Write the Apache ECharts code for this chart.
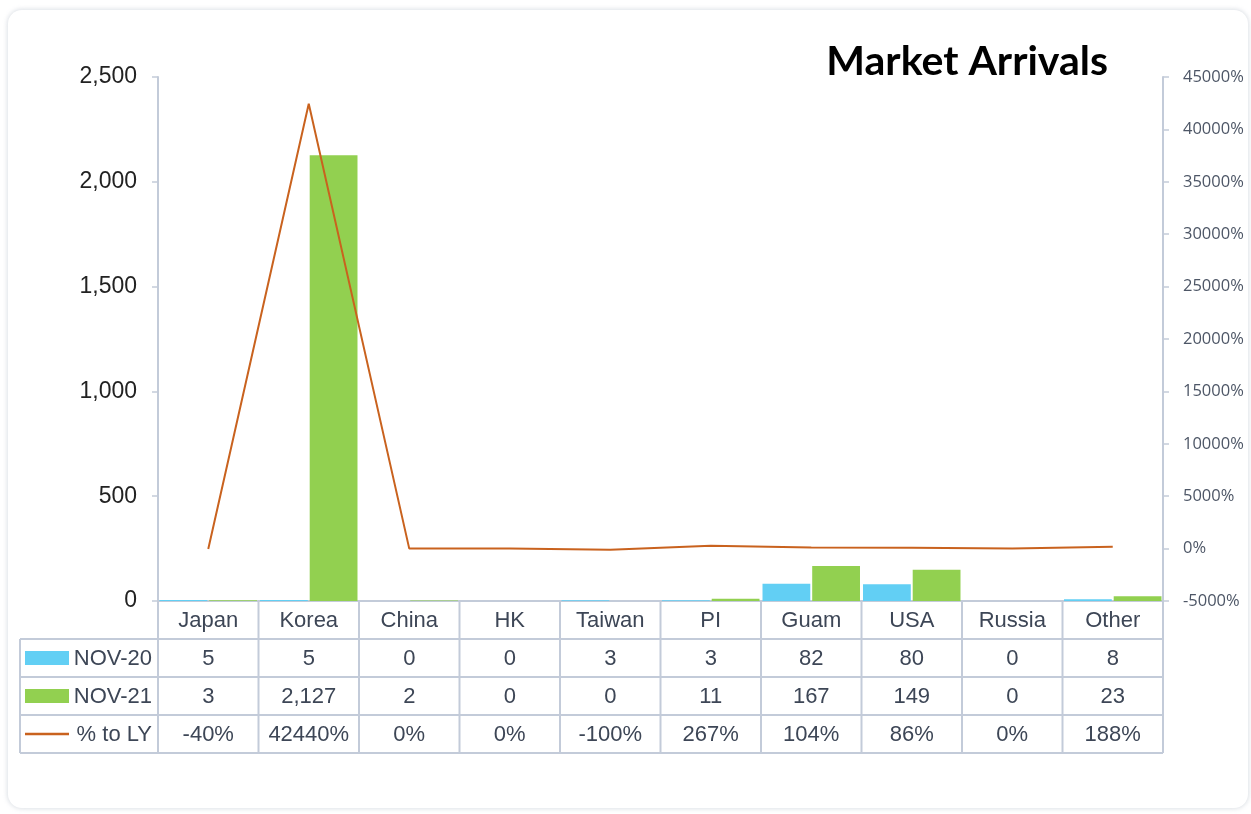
<!DOCTYPE html>
<html><head><meta charset="utf-8">
<script src="https://cdn.jsdelivr.net/npm/echarts@6/dist/echarts.min.js"></script>
<style>
html,body{margin:0;padding:0;background:#fff;}
#card{position:absolute;left:8px;top:10px;width:1240px;height:798px;border-radius:14px;box-shadow:0 0 4px 1px rgba(180,188,200,0.45);background:#fff;}
#chart{position:absolute;left:0;top:0;width:1251px;height:814px;}
</style></head>
<body>
<div id="card"></div>
<div id="chart"></div>
<script>
const categories = ['Japan','Korea','China','HK','Taiwan','PI','Guam','USA','Russia','Other'];
const nov20 = [5,5,0,0,3,3,82,80,0,8];
const nov21 = [3,2127,2,0,0,11,167,149,0,23];
const pctToLY = [-40,42440,0,0,-100,267,104,86,0,188];
const seriesNames = ['NOV-20','NOV-21','% to LY'];
const colors = ['#62CFF4','#92D050','#C9621E'];

const sansFont = '"Liberation Sans",Arial,sans-serif';
const borderColor = '#C3CBD9';
const textColor = '#3D4656';

const chart = echarts.init(document.getElementById('chart'), null, {renderer:'canvas'});
const option = {
  animation:false,
  backgroundColor:'transparent',
  title:{text:'Market Arrivals', right:143, top:41, padding:0,
    textStyle:{fontFamily:'Lato, "DejaVu Sans", sans-serif', fontWeight:'bold', fontSize:41, color:'#000'}},
  grid:{left:158, right:88, top:77, bottom:213},
  xAxis:{type:'category', data:categories,
    axisLine:{show:true, lineStyle:{color:borderColor, width:2}},
    axisTick:{show:false},
    axisLabel:{show:false}
  },
  yAxis:[
    {type:'value', min:0, max:2500, interval:500, position:'left',
     axisLine:{show:true, lineStyle:{color:borderColor, width:2}},
     axisTick:{show:true, length:6, lineStyle:{color:borderColor, width:1.5}},
     splitLine:{show:false},
     axisLabel:{fontFamily:sansFont, fontSize:23, color:'#222', margin:21,
       formatter:v=>v.toLocaleString('en-US')}},
    {type:'value', min:-5000, max:45000, interval:5000, position:'right',
     axisLine:{show:true, lineStyle:{color:borderColor, width:2}},
     axisTick:{show:true, length:6, lineStyle:{color:borderColor, width:1.5}},
     splitLine:{show:false},
     axisLabel:{fontFamily:'"Open Sans","Noto Sans",sans-serif', fontSize:16.5, color:'#4D5666', margin:20,
       formatter:v=>String(v)+'%'}}
  ],
  series:[
    {name:seriesNames[0], type:'bar', data:nov20, itemStyle:{color:colors[0]}, barGap:'4%', barCategoryGap:'3%'},
    {name:seriesNames[1], type:'bar', data:nov21, itemStyle:{color:colors[1]}, barGap:'4%', barCategoryGap:'3%'},
    {name:seriesNames[2], type:'line', yAxisIndex:1, data:pctToLY, symbol:'none',
     lineStyle:{color:colors[2], width:2}, itemStyle:{color:colors[2]}}
  ]
};
chart.setOption(option);

function fmt(v){return v.toLocaleString('en-US');}
function cellText(t, x, y, align){
  return {type:'text', x:x, y:y, silent:true,
    style:{text:t, fontFamily:sansFont, fontSize:22, fill:textColor, align:align||'center', verticalAlign:'middle'}};
}
function buildTable(){
  const n = categories.length;
  const c0 = chart.convertToPixel({xAxisIndex:0}, categories[0]);
  const c1 = chart.convertToPixel({xAxisIndex:0}, categories[1]);
  const bw = c1 - c0;
  const left = c0 - bw/2, right = left + bw*n;
  const yTop = chart.convertToPixel({yAxisIndex:0}, 0);
  const rowH = 38;
  const tableLeft = 20;
  const els = [];
  const ls = {stroke:borderColor, lineWidth:2};
  for (let r=1; r<=4; r++){
    const y = yTop + r*rowH;
    els.push({type:'line', shape:{x1:tableLeft, y1:y, x2:right, y2:y}, style:ls, silent:true});
  }
  for (let i=0; i<=n; i++){
    const x = left + i*bw;
    els.push({type:'line', shape:{x1:x, y1:yTop, x2:x, y2:yTop+4*rowH}, style:ls, silent:true});
  }
  els.push({type:'line', shape:{x1:tableLeft, y1:yTop+rowH, x2:tableLeft, y2:yTop+4*rowH}, style:ls, silent:true});
  categories.forEach((c,i)=>{
    els.push(cellText(c, left + (i+0.5)*bw, yTop + 0.5*rowH + 1));
  });
  const rows = [nov20.map(fmt), nov21.map(fmt), pctToLY.map(v=>v+'%')];
  rows.forEach((vals, r)=>{
    const yc = yTop + (r+1.5)*rowH;
    vals.forEach((t,i)=>{
      els.push(cellText(t, left + (i+0.5)*bw, yc + 1));
    });
    if (r<2){
      els.push({type:'rect', shape:{x:25, y:yc-7, width:44, height:14}, style:{fill:colors[r]}, silent:true});
    } else {
      els.push({type:'line', shape:{x1:25, y1:yc, x2:69, y2:yc}, style:{stroke:colors[2], lineWidth:2.5}, silent:true});
    }
    els.push(cellText(seriesNames[r], 152, yc + 1, 'right'));
  });
  chart.setOption({graphic:{elements:els}});
}
buildTable();
</script>
</body></html>
